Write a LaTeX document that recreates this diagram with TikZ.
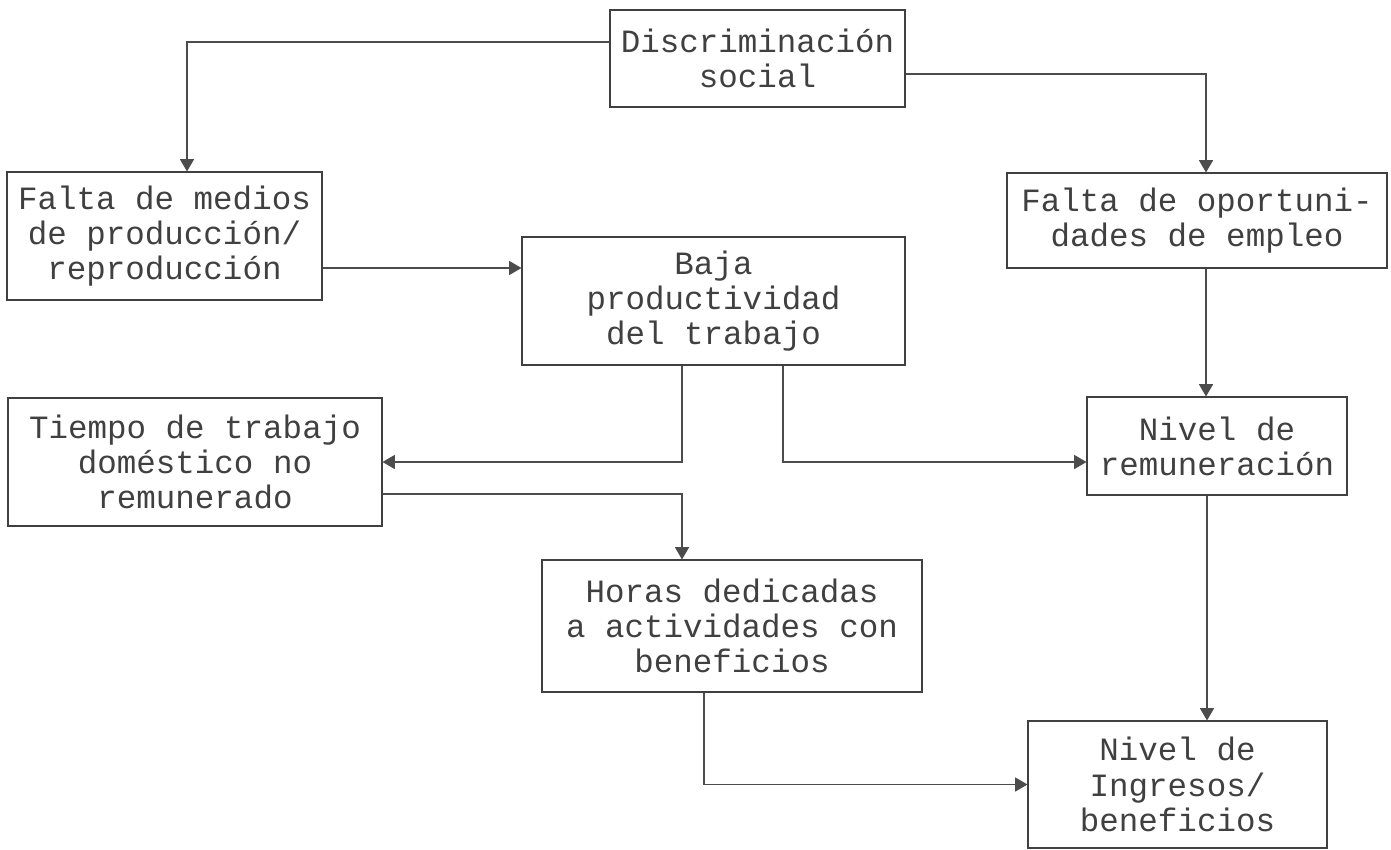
\documentclass[tikz,border=0pt]{standalone}
\usepackage{fontspec}
\setmonofont{Liberation Mono}
\usepackage{tikz}
\usetikzlibrary{arrows.meta}
\usetikzlibrary{positioning}

\tikzset{
    caja/.style={draw=black!75, line width=0.6pt, rectangle, align=center, inner sep=0pt, text=black!75, font=\ttfamily\fontsize{18.5}{20}\selectfont},
    flecha/.style={draw=black!70, line width=0.6pt, -{Triangle[length=7pt, width=8pt]}},
}

\begin{document}
\begin{tikzpicture}
\useasboundingbox (0, 0) rectangle (27.82, -17);

    \node[caja, minimum width=5.9cm, minimum height=1.94cm] (N0) at (15.15, -1.17) {Discriminación\\social};
\node[caja, minimum width=6.3cm, minimum height=2.56cm] (N1) at (3.29, -4.72) {Falta de medios\\de producción/\\reproducción};
\node[caja, minimum width=7.6cm, minimum height=1.9cm] (N2) at (23.94, -4.41) {Falta de oportuni-\\dades de empleo};


    \node[caja, minimum width=7.66cm, minimum height=2.56cm] (N3) at (14.27, -6.02) {Baja\\productividad\\del trabajo};
\node[caja, minimum width=7.48cm, minimum height=2.56cm] (N4) at (3.9, -9.24) {Tiempo de trabajo\\doméstico no\\remunerado};
\node[caja, minimum width=5.2cm, minimum height=1.96cm] (N5) at (24.34, -8.92) {Nivel de\\remuneración};


    \node[caja, minimum width=7.6cm, minimum height=2.64cm] (N6) at (14.64, -12.52) {Horas dedicadas\\a actividades con\\beneficios};
\node[caja, minimum width=5.98cm, minimum height=2.54cm] (N7) at (23.55, -15.69) {Nivel de\\Ingresos/\\beneficios};


    \coordinate (C0) at ([yshift=0.33cm]N0.west);
\coordinate (C1) at ([yshift=-0.31cm]N0.east);
\coordinate (C2) at ([yshift=-0.64cm]N1.east);
\coordinate (C3) at ([xshift=-0.63cm]N3.south);
\coordinate (C4) at ([xshift=1.39cm]N3.south);
\coordinate (C5) at ([xshift=0.18cm]N2.south);
\coordinate (C6) at ([xshift=-0.2cm]N5.south);
\coordinate (C7) at ([yshift=-0.64cm]N4.east);
\coordinate (C8) at ([xshift=-0.56cm]N6.south);


    \draw[flecha] (C0) -| ([xshift=0.45cm]N1.north);
\draw[flecha] (C1) -| (C1 -| C5) -- (C5 |- N2.north);
\draw[flecha] (C2) -- (C2 -| N3.west);
\draw[flecha] (C3) |- (N4.east);
\draw[flecha] (C4) |- (N4.east -| N5.west);
\draw[flecha] (C5) -- (C5 |- N5.north);
\draw[flecha] (C6) -- (C6 |- N7.north);
\draw[flecha] (C7) -| (C3 |- N6.north);
\draw[flecha] (C8) |- (N7.west);

\end{tikzpicture}
\end{document}
